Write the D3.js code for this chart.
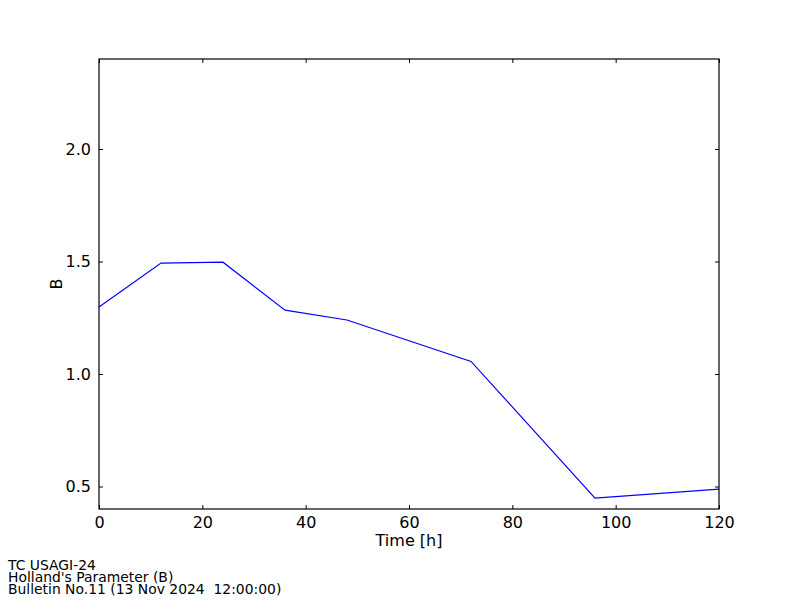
<!DOCTYPE html>
<html><head><meta charset="utf-8">
<script src="https://cdn.jsdelivr.net/npm/d3@7"></script>
<style>body{margin:0;background:#fff}svg{display:block}text{font-family:"DejaVu Sans",sans-serif}</style>
</head><body>
<script>
const hours = [0, 12, 24, 36, 48, 72, 96, 120];
const bValues = [1.298, 1.493, 1.497, 1.284, 1.240, 1.056, 0.448, 0.488];
const xTicks = [0, 20, 40, 60, 80, 100, 120];
const yTicks = [0.5, 1.0, 1.5, 2.0];
const footLines = ["TC USAGI-24", "Holland's Parameter (B)", "Bulletin No.11 (13 Nov 2024  12:00:00)"];

const W = 800, H = 600;
const m = {left: 99, right: 719, top: 59, bottom: 509};
const svg = d3.select("body").append("svg").attr("width", W).attr("height", H);
svg.append("rect").attr("width", W).attr("height", H).attr("fill", "#fff");

const x = d3.scaleLinear().domain([0, 120]).range([m.left, m.right]);
const y = d3.scaleLinear().domain([0.4, 2.4]).range([m.bottom, m.top]);

const tl = 4;
function styleAxis(g) {
  g.select(".domain").remove();
  g.selectAll(".tick line").attr("stroke", "#000").attr("stroke-width", 1);
  g.selectAll(".tick text").attr("font-size", "16px").attr("fill", "#000");
}
svg.append("g").attr("transform", `translate(0,${m.bottom})`)
  .call(d3.axisBottom(x).tickValues(xTicks).tickFormat(d3.format("d")).tickSizeInner(-tl).tickSizeOuter(0).tickPadding(8))
  .call(styleAxis);
svg.append("g").attr("transform", `translate(0,${m.top})`)
  .call(d3.axisTop(x).tickValues(xTicks).tickFormat("").tickSizeInner(-tl).tickSizeOuter(0))
  .call(styleAxis);
svg.append("g").attr("transform", `translate(${m.left},0)`)
  .call(d3.axisLeft(y).tickValues(yTicks).tickFormat(d3.format(".1f")).tickSizeInner(-tl).tickSizeOuter(0).tickPadding(8))
  .call(styleAxis);
svg.append("g").attr("transform", `translate(${m.right},0)`)
  .call(d3.axisRight(y).tickValues(yTicks).tickFormat("").tickSizeInner(-tl).tickSizeOuter(0))
  .call(styleAxis);

const line = d3.line().x((d, i) => x(hours[i])).y(d => y(d));
svg.append("path").datum(bValues).attr("d", line)
  .attr("fill", "none").attr("stroke", "#0000ff").attr("stroke-width", 1.2);

svg.append("rect").attr("x", m.left).attr("y", m.top)
  .attr("width", m.right - m.left).attr("height", m.bottom - m.top)
  .attr("fill", "none").attr("stroke", "#000").attr("stroke-width", 1.2);

svg.append("text").attr("x", (m.left + m.right) / 2).attr("y", 546)
  .attr("text-anchor", "middle").attr("font-size", "16px").text("Time [h]");
svg.append("text").attr("transform", `translate(62,${(m.top + m.bottom) / 2}) rotate(-90)`)
  .attr("text-anchor", "middle").attr("font-size", "16px").text("B");

svg.append("g").selectAll("text").data(footLines).join("text")
  .attr("x", 8).attr("y", (d, i) => 570 + i * 12)
  .attr("font-size", "13.9px").style("white-space", "pre").attr("xml:space", "preserve")
  .text(d => d);
</script>
</body></html>
